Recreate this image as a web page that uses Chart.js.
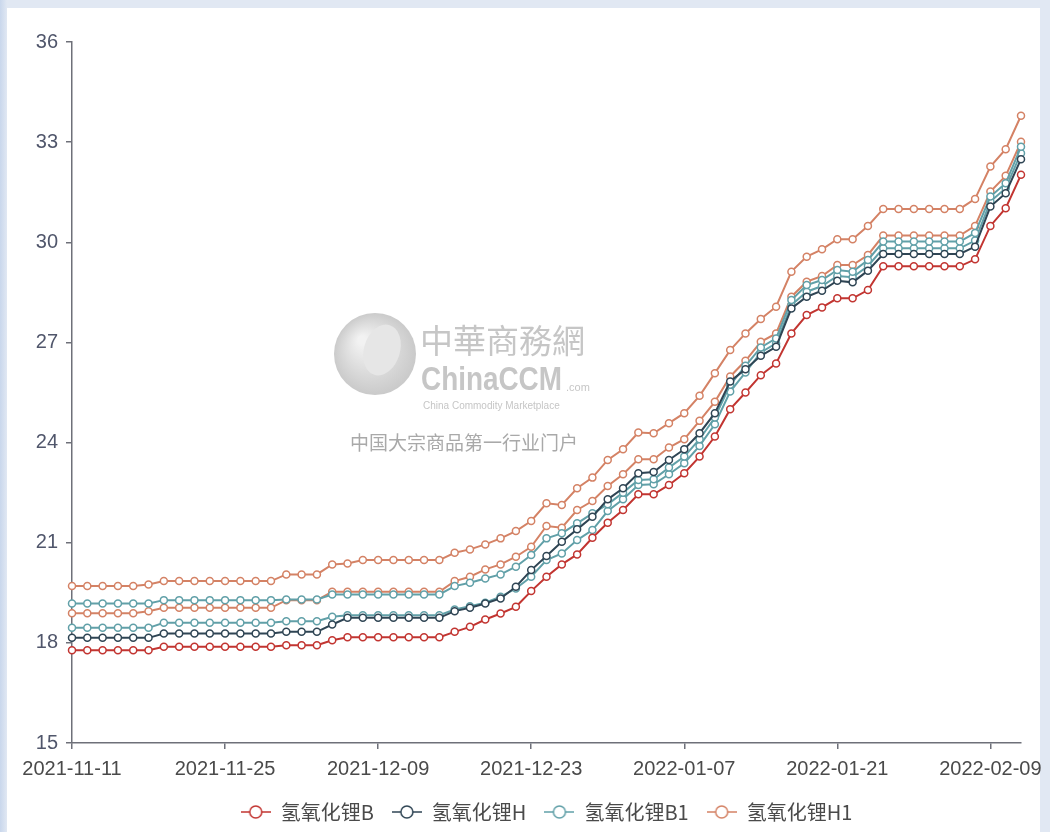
<!DOCTYPE html>
<html lang="zh-CN">
<head>
    <meta charset="UTF-8">
    <title>氢氧化锂价格走势</title>
    <style>
        html, body { margin: 0; padding: 0; }
        body {
            width: 1050px;
            height: 832px;
            position: relative;
            overflow: hidden;
            background: linear-gradient(90deg, #c9d7ec 0px, #e1e8f3 7px, #e1e8f3 100%);
        }
        /* white card behind the chart */
        .panel {
            position: absolute;
            left: 7px; top: 8px;
            width: 1033px; height: 824px;
            background: #ffffff;
        }
        .chart-box {
            position: absolute;
            left: 0; top: 0;
            width: 1050px; height: 832px;
        }
    </style>
    <script src="https://cdn.jsdelivr.net/npm/chart.js"></script>
</head>
<body>
    <div class="panel"></div>
    <div class="chart-box"><canvas id="myChart"></canvas></div>

    <script>
        // trading days shown on the x axis
        const dates = [
            '2021-11-11','2021-11-12','2021-11-15','2021-11-16','2021-11-17','2021-11-18','2021-11-19',
            '2021-11-22','2021-11-23','2021-11-24','2021-11-25','2021-11-26','2021-11-29','2021-11-30',
            '2021-12-01','2021-12-02','2021-12-03','2021-12-06','2021-12-07','2021-12-08','2021-12-09',
            '2021-12-10','2021-12-13','2021-12-14','2021-12-15','2021-12-16','2021-12-17','2021-12-20',
            '2021-12-21','2021-12-22','2021-12-23','2021-12-24','2021-12-27','2021-12-28','2021-12-29',
            '2021-12-30','2021-12-31','2022-01-04','2022-01-05','2022-01-06','2022-01-07','2022-01-10',
            '2022-01-11','2022-01-12','2022-01-13','2022-01-14','2022-01-17','2022-01-18','2022-01-19',
            '2022-01-20','2022-01-21','2022-01-24','2022-01-25','2022-01-26','2022-01-27','2022-01-28',
            '2022-01-29','2022-01-30','2022-02-07','2022-02-08','2022-02-09','2022-02-10','2022-02-11'
        ];

        // 氢氧化锂B (red)
        const priceB = [
            17.78,17.78,17.78,17.78,17.78,17.78,
            17.88,17.88,17.88,17.88,17.88,17.88,17.88,17.88,
            17.93,17.93,17.93, 18.08,
            18.17,18.17,18.17,18.17,18.17,18.17,18.17,
            18.33,18.48,18.7,18.88,19.08,19.55,19.98,20.35,20.65,21.15,
            21.6,21.98,22.45,22.45,22.73,23.08,23.58,24.18,25.0,25.5,
            26.02,26.37,27.27,27.82,28.05,28.32,28.32,28.57,
            29.28,29.28,29.28,29.28,29.28,29.28,
            29.49,30.49,31.02,32.02
        ];

        // 氢氧化锂H (dark)
        const priceH = [
            18.15,18.15,18.15,18.15,18.15,18.15,
            18.28,18.28,18.28,18.28,18.28,18.28,18.28,18.28,
            18.33,18.33,18.33, 18.55,
            18.75,18.75,18.75,18.75,18.75,18.75,18.75,
            18.95,19.05,19.18,19.33,19.68,20.18,20.6,21.03,21.4,21.78,
            22.3,22.63,23.08,23.12,23.48,23.8,24.28,24.88,25.83,26.2,
            26.6,26.87,28.02,28.37,28.55,28.85,28.8,29.15,
            29.65,29.65,29.65,29.65,29.65,29.65,
            29.87,31.07,31.47,32.49
        ];

        // 氢氧化锂B1 (teal, upper)
        const priceB1 = [
            19.18,19.18,19.18,19.18,19.18,19.18,
            19.28,19.28,19.28,19.28,19.28,19.28,19.28,19.28,
            19.3,19.3,19.3, 19.45,
            19.45,19.45,19.45,19.45,19.45,19.45,19.45,
            19.7,19.8,19.93,20.05,20.28,20.63,21.13,21.28,21.58,21.88,
            22.15,22.5,22.88,22.9,23.25,23.58,24.1,24.75,25.73,26.3,
            26.85,27.12,28.27,28.72,28.87,29.17,29.12,29.47,
            30.02,30.02,30.02,30.02,30.02,30.02,
            30.28,31.37,31.77,32.86
        ];

        // 氢氧化锂H1 (orange, upper)
        const priceH1 = [
            19.7,19.7,19.7,19.7,19.7,19.75,
            19.85,19.85,19.85,19.85,19.85,19.85,19.85,19.85,
            20.05,20.05,20.05, 20.35,
            20.38,20.48,20.48,20.48,20.48,20.48,20.48,
            20.7,20.8,20.95,21.13,21.35,21.65,22.18,22.13,22.63,22.95,
            23.48,23.8,24.3,24.28,24.58,24.88,25.4,26.08,26.77,27.27,
            27.7,28.07,29.12,29.57,29.79,30.09,30.09,30.49,
            31.0,31.0,31.0,31.0,31.0,31.0,
            31.3,32.27,32.79,33.79
        ];

        // second 氢氧化锂B1 line (teal, lower)
        const priceB1b = [
            18.45,18.45,18.45,18.45,18.45,18.45,
            18.6,18.6,18.6,18.6,18.6,18.6,18.6,18.6,
            18.65,18.65,18.65, 18.78,
            18.83,18.83,18.83,18.83,18.83,18.83,18.83,
            19.0,19.1,19.2,19.38,19.63,19.98,20.48,20.68,21.08,21.38,
            21.95,22.3,22.73,22.75,23.05,23.38,23.9,24.55,25.53,26.1,
            26.7,26.97,28.12,28.52,28.69,28.99,28.95,29.29,
            29.82,29.82,29.82,29.82,29.82,29.82,
            30.05,31.22,31.62,32.67
        ];

        // second 氢氧化锂H1 line (orange, lower)
        const priceH1b = [
            18.89,18.89,18.89,18.89,18.89,18.95,
            19.05,19.05,19.05,19.05,19.05,19.05,19.05,19.05,
            19.28,19.28,19.28, 19.53,
            19.53,19.53,19.53,19.53,19.53,19.53,19.53,
            19.85,19.98,20.2,20.35,20.58,20.88,21.5,21.45,21.98,22.25,
            22.7,23.05,23.5,23.5,23.85,24.1,24.65,25.22,25.98,26.45,
            27.02,27.27,28.37,28.82,28.99,29.32,29.32,29.62,
            30.2,30.2,30.2,30.2,30.2,30.2,
            30.49,31.52,31.99,33.01
        ];

        const seriesNames = ['氢氧化锂B', '氢氧化锂H', '氢氧化锂B1', '氢氧化锂H1'];
        const colors = ['#c23531', '#2f4554', '#61a0a8', '#d48265'];
        const yTicks = [15, 18, 21, 24, 27, 30, 33, 36];

        const axisColor = '#6e7079';

        function makeLine(label, data, color) {
            return {
                label: label,
                data: data,
                borderColor: color,
                backgroundColor: '#ffffff',
                borderWidth: 2,
                pointRadius: 3.5,
                pointBorderWidth: 1.5,
                pointBackgroundColor: '#ffffff',
                pointBorderColor: color,
                tension: 0,
                fill: false
            };
        }

        // "-O-" icon for the legend
        function legendIcon(color) {
            const c = document.createElement('canvas');
            c.width = 30; c.height = 16;
            const g = c.getContext('2d');
            g.strokeStyle = color;
            g.lineWidth = 1.5;
            g.beginPath(); g.moveTo(0, 8); g.lineTo(30, 8); g.stroke();
            g.fillStyle = '#ffffff';
            g.beginPath(); g.arc(15, 8, 6, 0, Math.PI * 2); g.fill(); g.stroke();
            return c;
        }

        // grey watermark in the middle of the plot
        const watermark = {
            id: 'watermark',
            beforeDatasetsDraw(chart) {
                const ctx = chart.ctx;
                ctx.save();
                const grad = ctx.createRadialGradient(362, 340, 4, 375, 354, 42);
                grad.addColorStop(0, '#f2f2f2');
                grad.addColorStop(1, '#c9c9c9');
                ctx.fillStyle = grad;
                ctx.beginPath(); ctx.arc(375, 354, 41, 0, Math.PI * 2); ctx.fill();
                ctx.fillStyle = '#e6e6e6';
                ctx.beginPath(); ctx.ellipse(382, 350, 18, 26, 0.3, 0, Math.PI * 2); ctx.fill();

                ctx.textBaseline = 'middle';
                ctx.fillStyle = '#c6c6c6';
                ctx.font = '33px "Noto Sans CJK SC"';
                ctx.fillText('中華商務網', 420, 340);

                // condensed "ChinaCCM"
                ctx.save();
                ctx.translate(421, 381);
                ctx.scale(0.82, 1);
                ctx.font = 'bold 34px "Liberation Sans"';
                ctx.fillText('ChinaCCM', 0, 0);
                ctx.restore();

                ctx.font = '11px "Liberation Sans"';
                ctx.fillText('.com', 566, 388);
                ctx.font = '10px "Liberation Sans"';
                ctx.fillText('China Commodity Marketplace', 423, 406);
                ctx.fillStyle = '#a9a9a9';
                ctx.font = '19px "Noto Sans CJK SC"';
                ctx.fillText('中国大宗商品第一行业门户', 350, 443);
                ctx.restore();
            }
        };

        const ctx = document.getElementById('myChart').getContext('2d');
        const myChart = new Chart(ctx, {
            type: 'line',
            data: {
                labels: dates,
                datasets: [
                    makeLine(seriesNames[0], priceB, colors[0]),
                    makeLine(seriesNames[1], priceH, colors[1]),
                    makeLine(seriesNames[2], priceB1, colors[2]),
                    makeLine(seriesNames[3], priceH1, colors[3]),
                    makeLine(seriesNames[2], priceB1b, colors[2]),
                    makeLine(seriesNames[3], priceH1b, colors[3])
                ]
            },
            options: {
                responsive: true,
                maintainAspectRatio: false,
                animation: false,
                layout: { padding: { top: 42, right: 29, left: 0, bottom: 0 } },
                plugins: {
                    tooltip: { enabled: false },
                    legend: {
                        position: 'bottom',
                        fullSize: false,
                        onClick: null,
                        labels: {
                            usePointStyle: true,
                            pointStyleWidth: 30,
                            boxHeight: 14,
                            padding: 18,
                            color: '#4a4a4a',
                            font: { family: '"Noto Sans CJK SC"', size: 20 },
                            generateLabels: () => seriesNames.map((name, i) => ({
                                text: name,
                                pointStyle: legendIcon(colors[i]),
                                fillStyle: '#ffffff',
                                strokeStyle: colors[i],
                                fontColor: '#4a4a4a',
                                lineWidth: 0,
                                hidden: false,
                                datasetIndex: i
                            }))
                        }
                    }
                },
                scales: {
                    x: {
                        type: 'category',
                        offset: false,
                        afterFit: s => { s.height = 41; },
                        border: { display: true, color: axisColor, width: 1.5 },
                        grid: {
                            drawOnChartArea: false,
                            drawTicks: true,
                            tickLength: 6,
                            lineWidth: 1.5,
                            color: c => (c.index % 10 === 0 ? axisColor : 'rgba(0,0,0,0)')
                        },
                        ticks: {
                            autoSkip: false,
                            maxRotation: 0,
                            minRotation: 0,
                            padding: 8,
                            color: '#4a4a4a',
                            font: { family: '"Liberation Sans"', size: 20 },
                            callback: function (v, i) {
                                return i % 10 === 0 ? this.getLabelForValue(v) : '';
                            }
                        }
                    },
                    y: {
                        min: yTicks[0],
                        max: yTicks[yTicks.length - 1],
                        afterFit: s => { s.width = 72; },
                        afterBuildTicks: s => { s.ticks = yTicks.map(v => ({ value: v })); },
                        border: { display: true, color: axisColor, width: 1.5 },
                        grid: {
                            drawOnChartArea: false,
                            drawTicks: true,
                            tickLength: 6,
                            lineWidth: 1.5,
                            color: axisColor
                        },
                        ticks: {
                            padding: 8,
                            color: '#50566b',
                            font: { family: '"Liberation Sans"', size: 20 }
                        }
                    }
                }
            },
            plugins: [watermark]
        });
    </script>
</body>
</html>
